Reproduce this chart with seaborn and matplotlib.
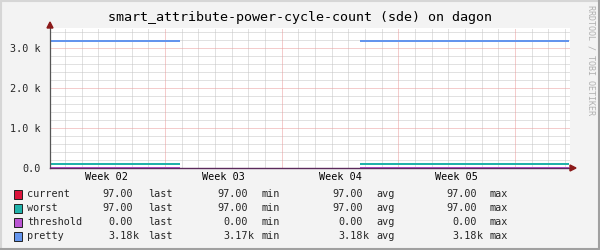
import numpy as np
import pandas as pd
import matplotlib
matplotlib.use("Agg")
import matplotlib.pyplot as plt
from matplotlib.patches import Rectangle, Polygon
from matplotlib.lines import Line2D
import seaborn as sns

# ---------------- data ----------------
title = "smart_attribute-power-cycle-count (sde) on dagon"
series_names = ["current", "worst", "threshold", "pretty"]
series_colors = ["#DC143C", "#20B2AA", "#BA55D3", "#6495ED"]
# data present in two time segments (days from start of Week 02)
seg_start_day = [0.1, 18.76]
seg_end_day = [7.84, 31.18]
current_vals = [97.0, 97.0]
worst_vals = [97.0, 97.0]
threshold_vals = [0.0, 0.0]
pretty_vals = [3180.0, 3180.0]
week_labels = ["Week 02", "Week 03", "Week 04", "Week 05"]
ytick_vals = [0, 1000, 2000, 3000]
ytick_labels = ["0.0", "1.0 k", "2.0 k", "3.0 k"]
legend_last = ["97.00", "97.00", "0.00", "3.18k"]
legend_min = ["97.00", "97.00", "0.00", "3.17k"]
legend_avg = ["97.00", "97.00", "0.00", "3.18k"]
legend_max = ["97.00", "97.00", "0.00", "3.18k"]

# ---------------- build long table ----------------
rows = []
vals_by_series = {"current": current_vals, "worst": worst_vals,
                  "threshold": threshold_vals, "pretty": pretty_vals}
for s in series_names:
    for i, (a, b) in enumerate(zip(seg_start_day, seg_end_day)):
        rows.append({"series": s, "segment": i, "day": a, "value": vals_by_series[s][i]})
        rows.append({"series": s, "segment": i, "day": b, "value": vals_by_series[s][i]})
df = pd.DataFrame(rows)

# ---------------- styling ----------------
sns.set_style("white")
plt.rcParams["font.family"] = ["DejaVu Sans Mono", "DejaVu Sans"]
plt.rcParams["lines.scale_dashes"] = False

W, H = 600, 250
fig = plt.figure(figsize=(6, 2.5), dpi=100)
fig.patch.set_facecolor("#F3F3F3")

def fx(px):
    return px / W

def fy(py):
    return 1 - py / H

ax_left, ax_right, ax_top, ax_bottom = 50, 570, 28, 168
ax = fig.add_axes([fx(ax_left), fy(ax_bottom), (ax_right - ax_left) / W, (ax_bottom - ax_top) / H])
ax.set_facecolor("white")

xmin, xmax = 0.1, 31.3
ymin, ymax = 0, 3500
ax.set_xlim(xmin, xmax)
ax.set_ylim(ymin, ymax)

# grid
dot = (0, (0.72, 0.72))
minor_c = "#C4C4C4"
major_c = "#EA9A9A"
for d in range(1, 32):
    if d % 7 != 0:
        ax.axvline(d, color=minor_c, lw=0.72, ls=dot, zorder=1)
for y in range(200, 3500, 200):
    if y % 1000 != 0:
        ax.axhline(y, color=minor_c, lw=0.72, ls=dot, zorder=1)
for d in [7, 14, 21, 28]:
    ax.axvline(d, color=major_c, lw=0.72, ls=dot, zorder=1.5)
for y in [1000, 2000, 3000]:
    ax.axhline(y, color=major_c, lw=0.72, ls=dot, zorder=1.5)

# data lines
order = ["pretty", "current", "worst", "threshold"]
palette = dict(zip(series_names, series_colors))
for s in order:
    sns.lineplot(data=df[df["series"] == s], x="day", y="value", units="segment",
                 estimator=None, color=palette[s], lw=1.2, ax=ax, legend=False,
                 sort=False, zorder=3, antialiased=False)

ax.set_xlabel("")
ax.set_ylabel("")

# spines
for sp in ["top", "right"]:
    ax.spines[sp].set_visible(False)
ax.spines["left"].set_color("#555555")
ax.spines["left"].set_linewidth(0.9)
ax.spines["bottom"].set_color("#5C2A5C")
ax.spines["bottom"].set_linewidth(1.0)
ax.spines["bottom"].set_zorder(4)
ax.spines["left"].set_zorder(4)

# ticks
ax.set_yticks(ytick_vals)
ax.set_yticklabels(ytick_labels)
ax.set_xticks([0.5 * (7 * i + 7 * (i + 1)) for i in range(4)])
ax.set_xticklabels(week_labels)
ax.tick_params(axis="x", length=0, pad=3, labelsize=7.3, colors="#000000")
ax.tick_params(axis="y", length=3, width=0.8, color="#555555", pad=4, labelsize=7.3)

# arrows (RRDtool style)
arr_c = "#8B1A1A"
fig.patches.append(Polygon([[fx(47), fy(28)], [fx(53), fy(28)], [fx(50), fy(22)]],
                           closed=True, transform=fig.transFigure, color=arr_c, figure=fig))
fig.patches.append(Polygon([[fx(570), fy(165)], [fx(570), fy(171)], [fx(576), fy(168)]],
                           closed=True, transform=fig.transFigure, color=arr_c, figure=fig))

# title
fig.text(fx(300), fy(18), title, ha="center", va="center", fontsize=9.6, color="#000000")

# watermark
fig.text(fx(591), fy(5), "RRDTOOL / TOBI OETIKER", rotation=-90, ha="center", va="top",
         fontsize=6.0, color="#B0B0B0")

# legend
row_y = [194.3, 208.3, 222.3, 236.3]
num_end = [133, 248, 363, 477]
word_x = [148, 261, 376, 490]
words = ["last", "min", "avg", "max"]
cols = [legend_last, legend_min, legend_avg, legend_max]
fs = 7.3
for i, name in enumerate(series_names):
    yy = row_y[i]
    fig.patches.append(Rectangle((fx(13.5), fy(yy + 4.5)), 8 / W, 9 / H, transform=fig.transFigure,
                                 facecolor=series_colors[i], edgecolor="#222222", lw=0.7, figure=fig))
    fig.text(fx(27), fy(yy), name, ha="left", va="center", fontsize=fs)
    for c in range(4):
        v = cols[c][i]
        if v.endswith("k"):
            fig.text(fx(num_end[c]), fy(yy), v[:-1], ha="right", va="center", fontsize=fs)
            fig.text(fx(num_end[c]), fy(yy), "k", ha="left", va="center", fontsize=fs)
        else:
            fig.text(fx(num_end[c]), fy(yy), v, ha="right", va="center", fontsize=fs)
        fig.text(fx(word_x[c]), fy(yy), words[c], ha="left", va="center", fontsize=fs)

# 3D-ish border
light, dark = "#D6D6D6", "#A0A0A0"
fig.lines.append(Line2D([fx(1), fx(599)], [fy(1), fy(1)], transform=fig.transFigure, color=light, lw=1.5))
fig.lines.append(Line2D([fx(1), fx(1)], [fy(1), fy(249)], transform=fig.transFigure, color=light, lw=1.5))
fig.lines.append(Line2D([fx(0), fx(599)], [fy(249), fy(249)], transform=fig.transFigure, color=dark, lw=1.5))
fig.lines.append(Line2D([fx(599), fx(599)], [fy(0), fy(249)], transform=fig.transFigure, color=dark, lw=1.5))

fig.savefig("out.png", dpi=100, facecolor=fig.get_facecolor())
